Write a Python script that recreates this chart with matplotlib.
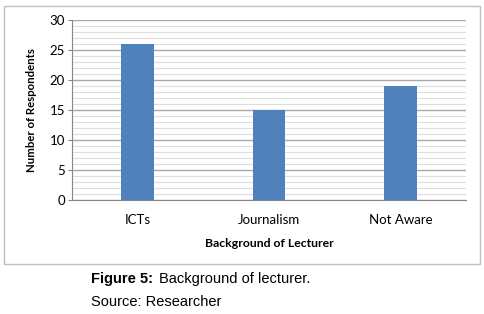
import numpy as np
import matplotlib
matplotlib.use('Agg')
from matplotlib import pyplot as plt
from matplotlib.patches import Rectangle

categories = ['ICTs', 'Journalism', 'Not Aware']
respondents = [26, 15, 19]
yticks = [0, 5, 10, 15, 20, 25, 30]

plt.rc('font', family=['Lato', 'DejaVu Sans'])

fig = plt.figure(figsize=(4.84, 3.14), dpi=100)
W, H = 484.0, 314.0

# chart box border
fig.patches.append(Rectangle((4 / W, 1 - 264 / H), 476 / W, 258 / H,
                             transform=fig.transFigure, fill=False,
                             edgecolor='#bfbfbf', linewidth=1.0))

ax = fig.add_axes([72 / W, 1 - 200 / H, 394 / W, 180 / H])
x = np.arange(len(categories))
ax.bar(x, respondents, width=0.25, color='#4f81bd', zorder=3)

ax.set_xlim(-0.5, len(categories) - 0.5)
ax.set_ylim(0, 30)
ax.set_yticks(yticks)
ax.set_yticks(np.arange(0, 31, 1), minor=True)
ax.grid(axis='y', which='major', color='#a8a8a8', linewidth=1.0, zorder=0)
ax.grid(axis='y', which='minor', color='#dedede', linewidth=0.8, zorder=0)
ax.set_xticks(x)
ax.set_xticklabels(categories, fontsize=9.5)
ax.tick_params(axis='x', length=0, pad=10)
ax.tick_params(axis='y', which='major', length=3, color='#888888', labelsize=9.5, pad=2)
ax.tick_params(axis='y', which='minor', length=0)

for s in ['top', 'right']:
    ax.spines[s].set_visible(False)
ax.spines['left'].set_color('#888888')
ax.spines['bottom'].set_color('#888888')

ax.set_ylabel('Number of Respondents', fontsize=8.2, fontweight='bold', labelpad=9)
ax.set_xlabel('Background of Lecturer', fontsize=8.8, fontweight='bold', labelpad=9)

fig.text(91 / W, 1 - 279 / H, 'Figure 5:', fontsize=10.5, fontweight='bold',
         family='Liberation Sans', va='center', ha='left')
fig.text(159 / W, 1 - 279 / H, 'Background of lecturer.', fontsize=10.5,
         family='Liberation Sans', va='center', ha='left')
fig.text(91 / W, 1 - 302 / H, 'Source: Researcher', fontsize=10.5,
         family='Liberation Sans', va='center', ha='left')

fig.savefig('out.png', dpi=100)
plt.close()
